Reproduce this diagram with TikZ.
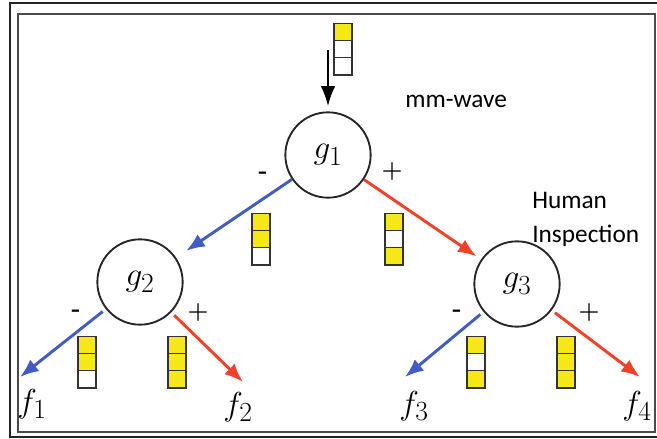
\documentclass[tikz,border=0pt]{standalone}
\usepackage{fontspec}
\newfontfamily\calibrifont{Carlito}
\usetikzlibrary{positioning, arrows.meta}
\definecolor{cellyellow}{RGB}{246,232,22}
\definecolor{edgeblue}{RGB}{66,92,196}
\definecolor{edgered}{RGB}{238,66,42}
\definecolor{framegray}{RGB}{75,75,75}

\begin{document}
\begin{tikzpicture}[
  x=0.75pt, y=-0.75pt,
  gate/.style={circle, draw=black!85, line width=1.4pt, minimum size=64pt, inner sep=0pt, font=\fontsize{32}{36}\selectfont},
  leaf/.style={inner sep=0pt, font=\fontsize{32}{36}\selectfont},
  cell/.style={draw=black!80, line width=1.3pt, minimum width=14pt, minimum height=12.8pt, inner sep=0pt, outer sep=0pt},
  sgn/.style={inner sep=0pt, font=\bfseries\fontsize{18}{20}\selectfont},
  note/.style={inner sep=0pt, font=\calibrifont\fontsize{19}{25.5}\selectfont, align=left},
  negedge/.style={-{Latex[length=14pt, width=11pt]}, edgeblue, line width=2.2pt},
  posedge/.style={-{Latex[length=14pt, width=11pt]}, edgered, line width=2.2pt},
  feedarrow/.style={-{Latex[length=15pt, width=11pt]}, black, line width=1.5pt}
]
\useasboundingbox (0,0) rectangle (657,439);
% double frame
\draw[line width=1.4pt, black!85] (10,3) rectangle (680,437);
\draw[line width=1.4pt, framegray] (18,14) rectangle (655,432);

% decision nodes
\node[gate] (g1) at (328,155) {$g_1$};
\node[gate] (g2) at (140,282) {$g_2$};
\node[gate] (g3) at (517,284) {$g_3$};

% outcomes
\coordinate (t1) at (20,377);
\coordinate (t2) at (243,382);
\coordinate (t3) at (405,377);
\coordinate (t4) at (640,377);
\node[leaf] (f1) at (32,404) {$f_1$};
\node[leaf] (f2) at (238,407) {$f_2$};
\node[leaf] (f3) at (414,406) {$f_3$};
\node[leaf] (f4) at (637,406) {$f_4$};

% edges
\coordinate (feed) at (328,50);
\draw[feedarrow, shorten >=4pt] (feed) -- (g1);
\draw[negedge, shorten >=9pt] (g1) -- (g2);
\draw[posedge, shorten >=4pt] (g1) -- (g3);
\draw[negedge, shorten <=3pt] (g2) -- (t1);
\draw[posedge, shorten <=3pt] (g2) -- (t2);
\draw[negedge, shorten <=3pt] (g3) -- (t3);
\draw[posedge, shorten <=3pt] (g3) -- (t4);

% branch signs
\node[sgn] (m1) at (263,175) {-};
\node[sgn] (p1) at (392,172) {+};
\node[sgn] (m2) at (76,313) {-};
\node[sgn] (p2) at (198,313) {+};
\node[sgn] (m3) at (457,313) {-};
\node[sgn] (p3) at (589,313) {+};

% bit stacks
\foreach \s/\x/\y/\ca/\cb/\cc in {
  s0/343/32/cellyellow/white/white,
  s1/261/222/cellyellow/cellyellow/white,
  s2/394/222/cellyellow/white/cellyellow,
  s3/87/345/cellyellow/cellyellow/white,
  s4/177/345/cellyellow/cellyellow/cellyellow,
  s5/476/345/cellyellow/white/cellyellow,
  s6/566/345/cellyellow/cellyellow/cellyellow}
{
  \node[cell, fill=\ca] (\s a) at (\x,\y) {};
  \node[cell, fill=\cb, below=0pt of \s a] (\s b) {};
  \node[cell, fill=\cc, below=0pt of \s b] (\s c) {};
}

% annotations
\node[note, anchor=base west] (mm) at (405,107) {mm-wave};
\node[note, anchor=base west] (hi) at (532,242) {Human\\Inspection};
\end{tikzpicture}
\end{document}
